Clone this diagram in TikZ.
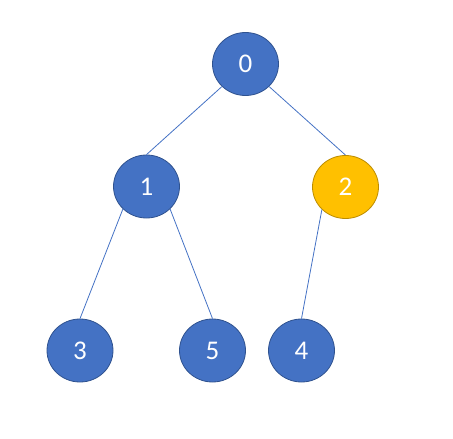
\documentclass[tikz,border=0pt]{standalone}
\usepackage{fontspec}
\setmainfont{Carlito}
\usetikzlibrary{shapes.geometric}
\definecolor{nodeblue}{HTML}{4472C4}
\definecolor{nodeblueborder}{HTML}{2F528F}
\definecolor{nodeorange}{HTML}{FFC000}
\definecolor{nodeorangeborder}{HTML}{BC8C00}
\tikzset{
  x=1pt, y=-1pt,
  treenode/.style={ellipse, minimum width=66pt, minimum height=63pt, inner sep=0pt,
    fill=nodeblue, draw=nodeblueborder, line width=0.8pt, text=white,
    font=\fontsize{27}{27}\selectfont},
  hotnode/.style={treenode, fill=nodeorange, draw=nodeorangeborder},
  edge/.style={draw=nodeblue, line width=0.8pt}
}
\begin{document}
\begin{tikzpicture}
\useasboundingbox (0,0) rectangle (453,439);
\node[treenode] (n0) at (245.5,64) {0};
\node[treenode] (n1) at (146.5,186.5) {1};
\node[hotnode]  (n2) at (345.5,187) {2};
\node[treenode] (n3) at (80,350.5) {3};
\node[treenode] (n5) at (212.5,350.5) {5};
\node[treenode] (n4) at (301.5,350.5) {4};
\path[edge] (n0.south west) -- (n1.north);
\path[edge] (n0.south east) -- (n2.north);
\path[edge] (n1.south west) -- (n3.north);
\path[edge] (n1.south east) -- (n5.north);
\path[edge] (n2.south west) -- (n4.north);
\end{tikzpicture}
\end{document}
